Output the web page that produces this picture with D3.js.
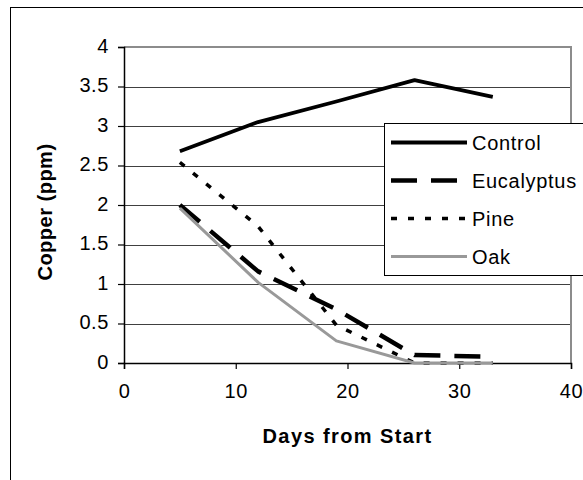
<!DOCTYPE html>
<html>
<head>
<meta charset="utf-8">
<script src="https://cdn.jsdelivr.net/npm/d3@7"></script>
<style>
  body { margin: 0; background: #fff; }
  svg { display: block; font-family: "Liberation Sans", Arial, sans-serif; }
</style>
</head>
<body>
<div id="chart"></div>
<script>
// Data
const days = [5, 12, 19, 26, 33];
const control = [2.68, 3.05, 3.31, 3.58, 3.37];
const eucalyptus = [2.0, 1.16, 0.68, 0.1, 0.08];
const pine = [2.54, 1.73, 0.48, 0.0, 0.0];
const oak = [1.96, 1.02, 0.28, 0.0, 0.0];

const seriesNames = ["Control", "Eucalyptus", "Pine", "Oak"];
const xTicks = [0, 10, 20, 30, 40];
const yTicks = [0, 0.5, 1, 1.5, 2, 2.5, 3, 3.5, 4];

const width = 583, height = 480;
const margin = { top: 47, right: 12, bottom: 117, left: 124 };

const svg = d3.select("#chart").append("svg")
    .attr("width", width)
    .attr("height", height);

// outer chart border (runs off the right and bottom edge)
svg.append("rect")
    .attr("x", 10.5).attr("y", 7.5)
    .attr("width", 620).attr("height", 520)
    .attr("fill", "none")
    .attr("stroke", "#000")
    .attr("stroke-width", 1);

const x = d3.scaleLinear().domain([0, 40]).range([margin.left, width - margin.right]);
const y = d3.scaleLinear().domain([0, 4]).range([height - margin.bottom, margin.top]);

// gridlines
svg.append("g")
    .selectAll("line")
    .data(yTicks.filter(d => d > 0 && d < 4))
    .enter().append("line")
    .attr("x1", x(0)).attr("x2", x(40))
    .attr("y1", d => Math.round(y(d)) + 0.5)
    .attr("y2", d => Math.round(y(d)) + 0.5)
    .attr("stroke", "#404040")
    .attr("stroke-width", 1);

// plot frame top + right (gray)
svg.append("path")
    .attr("d", `M${x(0)},${y(4)}H${x(40)}V${y(0)}`)
    .attr("fill", "none")
    .attr("stroke", "#8c8c8c")
    .attr("stroke-width", 2);

// axes
const yAxis = svg.append("g")
    .attr("transform", `translate(${x(0)},0)`)
    .call(d3.axisLeft(y).tickValues(yTicks).tickSize(6).tickPadding(9).tickFormat(d3.format("")));

const xAxis = svg.append("g")
    .attr("transform", `translate(0,${y(0)})`)
    .call(d3.axisBottom(x).tickValues(xTicks).tickSize(6).tickPadding(14.5));

[xAxis, yAxis].forEach(a => {
    a.select(".domain").attr("stroke", "#000").attr("stroke-width", 1.5);
    a.selectAll(".tick line").attr("stroke", "#000").attr("stroke-width", 1.2);
    a.selectAll(".tick text")
        .attr("fill", "#000")
        .style("font-size", "20px")
        .style("letter-spacing", "0.6px")
        .style("font-family", "'Liberation Sans', Arial, sans-serif");
});
yAxis.selectAll(".tick text").attr("dy", "0.26em");

// axis titles
svg.append("text")
    .attr("x", (x(0) + x(40)) / 2)
    .attr("y", 443)
    .attr("text-anchor", "middle")
    .style("font-size", "20px")
    .style("font-weight", "bold")
    .style("letter-spacing", "1.4px")
    .text("Days from Start");

svg.append("text")
    .attr("transform", "translate(52,212) rotate(-90)")
    .attr("text-anchor", "middle")
    .style("font-size", "20px")
    .style("font-weight", "bold")
    .style("letter-spacing", "0.5px")
    .text("Copper (ppm)");

// series lines
const styles = {
    Control:    { color: "#000", width: 3.8, dash: null },
    Eucalyptus: { color: "#000", width: 4.5, dash: "26,14" },
    Pine:       { color: "#000", width: 3.5, dash: "6,11" },
    Oak:        { color: "#999", width: 3, dash: null }
};
const seriesValues = [control, eucalyptus, pine, oak];

const line = d3.line()
    .x((d, i) => x(days[i]))
    .y(d => y(d));

svg.append("g")
    .selectAll("path")
    .data(seriesNames.map((n, i) => ({ name: n, values: seriesValues[i] })))
    .enter().append("path")
    .attr("d", d => line(d.values))
    .attr("fill", "none")
    .attr("stroke", d => styles[d.name].color)
    .attr("stroke-width", d => styles[d.name].width)
    .attr("stroke-dasharray", d => styles[d.name].dash)
    .attr("stroke-linejoin", "round");

// legend
const legend = svg.append("g");
legend.append("rect")
    .attr("x", 384.5).attr("y", 123.5)
    .attr("width", 240).attr("height", 152)
    .attr("fill", "#fff")
    .attr("stroke", "#000")
    .attr("stroke-width", 1);

const rows = legend.selectAll("g.row")
    .data(seriesNames)
    .enter().append("g")
    .attr("class", "row")
    .attr("transform", (d, i) => `translate(0,${142.5 + i * 38})`);

rows.append("line")
    .attr("x1", 391).attr("x2", 467)
    .attr("stroke", d => styles[d].color)
    .attr("stroke-width", d => styles[d].width)
    .attr("stroke-dasharray", d => styles[d].dash);

rows.append("text")
    .attr("x", 472)
    .attr("y", 7)
    .style("font-size", "20px")
    .style("letter-spacing", "0.7px")
    .text(d => d);
</script>
</body>
</html>
